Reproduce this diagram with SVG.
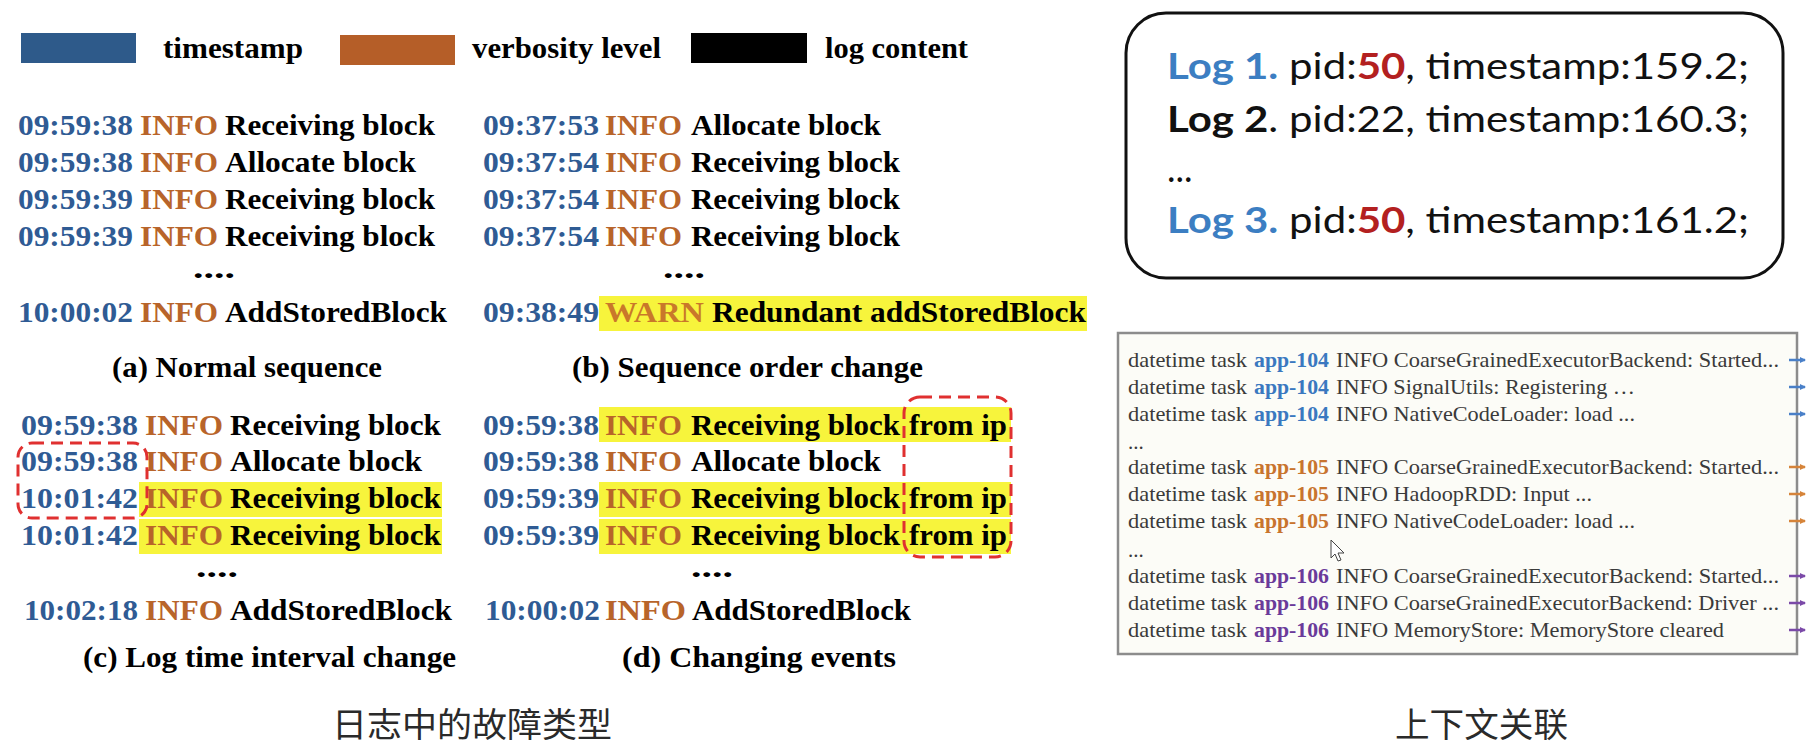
<svg xmlns="http://www.w3.org/2000/svg" width="1810" height="746" viewBox="0 0 1810 746">
<style>
.t{font-family:"Liberation Serif","Times New Roman",serif;font-weight:bold;font-size:29px;fill:#000}
.ts{fill:#2f5b94}
.lv{fill:#b8642a}
.wn{fill:#c9782a}
.hl{fill:#f7f43c}
.dash{fill:none;stroke:#e03030;stroke-width:3;stroke-dasharray:12 7}
.cn{font-family:"Noto Sans CJK SC","Noto Sans",sans-serif;font-size:34px;fill:#2a2a2a}
.r{font-family:Lato,"Open Sans",sans-serif;font-size:36px;fill:#111}
.lb{fill:#3c7ec2;font-weight:bold}
.kb{fill:#111;font-weight:bold}
.red{fill:#b32020;font-weight:bold}
.lg{font-family:"Liberation Serif","Times New Roman",serif;font-size:21px;fill:#3a3a3a}
.a4{fill:#3a78c0;font-weight:bold}
.a5{fill:#c8742e;font-weight:bold}
.a6{fill:#6a3a9a;font-weight:bold}
.stub{stroke-width:2.5}
</style>
<defs>
<marker id="mb" markerWidth="6" markerHeight="6" refX="5" refY="3" orient="auto" markerUnits="userSpaceOnUse"><path d="M0,0 L6,3 L0,6 Z" fill="#4a80c8"/></marker>
<marker id="mo" markerWidth="6" markerHeight="6" refX="5" refY="3" orient="auto" markerUnits="userSpaceOnUse"><path d="M0,0 L6,3 L0,6 Z" fill="#d6843a"/></marker>
<marker id="mp" markerWidth="6" markerHeight="6" refX="5" refY="3" orient="auto" markerUnits="userSpaceOnUse"><path d="M0,0 L6,3 L0,6 Z" fill="#7b4aa8"/></marker>
</defs>
<rect width="1810" height="746" fill="#fff"/>

<g id="legend">
<rect x="21" y="33" width="115" height="30" fill="#2e5a8a"/>
<text class="t" x="163" y="58" textLength="140" lengthAdjust="spacingAndGlyphs">timestamp</text>
<rect x="340" y="35" width="115" height="30" fill="#b55e28"/>
<text class="t" x="472" y="58" textLength="189" lengthAdjust="spacingAndGlyphs">verbosity level</text>
<rect x="691" y="33" width="116" height="30" fill="#000"/>
<text class="t" x="825" y="58" textLength="143" lengthAdjust="spacingAndGlyphs">log content</text>
</g>

<g id="panel-a">
<text class="t ts" x="18" y="135" textLength="115" lengthAdjust="spacingAndGlyphs">09:59:38</text>
<text class="t lv" x="140" y="135" textLength="78" lengthAdjust="spacingAndGlyphs">INFO</text>
<text class="t" x="225" y="135" textLength="210" lengthAdjust="spacingAndGlyphs">Receiving block</text>
<text class="t ts" x="18" y="172" textLength="115" lengthAdjust="spacingAndGlyphs">09:59:38</text>
<text class="t lv" x="140" y="172" textLength="78" lengthAdjust="spacingAndGlyphs">INFO</text>
<text class="t" x="225" y="172" textLength="191" lengthAdjust="spacingAndGlyphs">Allocate block</text>
<text class="t ts" x="18" y="209" textLength="115" lengthAdjust="spacingAndGlyphs">09:59:39</text>
<text class="t lv" x="140" y="209" textLength="78" lengthAdjust="spacingAndGlyphs">INFO</text>
<text class="t" x="225" y="209" textLength="210" lengthAdjust="spacingAndGlyphs">Receiving block</text>
<text class="t ts" x="18" y="246" textLength="115" lengthAdjust="spacingAndGlyphs">09:59:39</text>
<text class="t lv" x="140" y="246" textLength="78" lengthAdjust="spacingAndGlyphs">INFO</text>
<text class="t" x="225" y="246" textLength="210" lengthAdjust="spacingAndGlyphs">Receiving block</text>
<text class="t" x="193" y="278" textLength="42" lengthAdjust="spacingAndGlyphs">....</text>
<text class="t ts" x="18" y="322" textLength="115" lengthAdjust="spacingAndGlyphs">10:00:02</text>
<text class="t lv" x="140" y="322" textLength="78" lengthAdjust="spacingAndGlyphs">INFO</text>
<text class="t" x="225" y="322" textLength="222" lengthAdjust="spacingAndGlyphs">AddStoredBlock</text>
<text class="t" x="112" y="377" textLength="270" lengthAdjust="spacingAndGlyphs">(a) Normal sequence</text>
</g>

<g id="panel-b">
<text class="t ts" x="483" y="135" textLength="116" lengthAdjust="spacingAndGlyphs">09:37:53</text>
<text class="t lv" x="605" y="135" textLength="77" lengthAdjust="spacingAndGlyphs">INFO</text>
<text class="t" x="691" y="135" textLength="190" lengthAdjust="spacingAndGlyphs">Allocate block</text>
<text class="t ts" x="483" y="172" textLength="116" lengthAdjust="spacingAndGlyphs">09:37:54</text>
<text class="t lv" x="605" y="172" textLength="77" lengthAdjust="spacingAndGlyphs">INFO</text>
<text class="t" x="691" y="172" textLength="209" lengthAdjust="spacingAndGlyphs">Receiving block</text>
<text class="t ts" x="483" y="209" textLength="116" lengthAdjust="spacingAndGlyphs">09:37:54</text>
<text class="t lv" x="605" y="209" textLength="77" lengthAdjust="spacingAndGlyphs">INFO</text>
<text class="t" x="691" y="209" textLength="209" lengthAdjust="spacingAndGlyphs">Receiving block</text>
<text class="t ts" x="483" y="246" textLength="116" lengthAdjust="spacingAndGlyphs">09:37:54</text>
<text class="t lv" x="605" y="246" textLength="77" lengthAdjust="spacingAndGlyphs">INFO</text>
<text class="t" x="691" y="246" textLength="209" lengthAdjust="spacingAndGlyphs">Receiving block</text>
<text class="t" x="663" y="278" textLength="42" lengthAdjust="spacingAndGlyphs">....</text>
<rect class="hl" x="599" y="296" width="488" height="35"/>
<text class="t ts" x="483" y="322" textLength="116" lengthAdjust="spacingAndGlyphs">09:38:49</text>
<text class="t wn" x="605" y="322" textLength="99" lengthAdjust="spacingAndGlyphs">WARN</text>
<text class="t" x="712" y="322" textLength="374" lengthAdjust="spacingAndGlyphs">Redundant addStoredBlock</text>
<text class="t" x="572" y="377" textLength="351" lengthAdjust="spacingAndGlyphs">(b) Sequence order change</text>
</g>

<g id="panel-c">
<rect class="hl" x="139" y="482" width="303" height="35"/>
<rect class="hl" x="139" y="519" width="303" height="35"/>
<text class="t ts" x="21" y="435" textLength="117" lengthAdjust="spacingAndGlyphs">09:59:38</text>
<text class="t lv" x="145" y="435" textLength="78" lengthAdjust="spacingAndGlyphs">INFO</text>
<text class="t" x="230" y="435" textLength="211" lengthAdjust="spacingAndGlyphs">Receiving block</text>
<text class="t ts" x="21" y="471" textLength="117" lengthAdjust="spacingAndGlyphs">09:59:38</text>
<text class="t lv" x="145" y="471" textLength="78" lengthAdjust="spacingAndGlyphs">INFO</text>
<text class="t" x="230" y="471" textLength="192" lengthAdjust="spacingAndGlyphs">Allocate block</text>
<text class="t ts" x="21" y="508" textLength="117" lengthAdjust="spacingAndGlyphs">10:01:42</text>
<text class="t lv" x="145" y="508" textLength="78" lengthAdjust="spacingAndGlyphs">INFO</text>
<text class="t" x="230" y="508" textLength="211" lengthAdjust="spacingAndGlyphs">Receiving block</text>
<text class="t ts" x="21" y="545" textLength="117" lengthAdjust="spacingAndGlyphs">10:01:42</text>
<text class="t lv" x="145" y="545" textLength="78" lengthAdjust="spacingAndGlyphs">INFO</text>
<text class="t" x="230" y="545" textLength="211" lengthAdjust="spacingAndGlyphs">Receiving block</text>
<rect class="dash" x="18" y="443" width="129" height="75" rx="14"/>
<text class="t" x="196" y="577" textLength="42" lengthAdjust="spacingAndGlyphs">....</text>
<text class="t ts" x="24" y="620" textLength="114" lengthAdjust="spacingAndGlyphs">10:02:18</text>
<text class="t lv" x="145" y="620" textLength="78" lengthAdjust="spacingAndGlyphs">INFO</text>
<text class="t" x="230" y="620" textLength="222" lengthAdjust="spacingAndGlyphs">AddStoredBlock</text>
<text class="t" x="83" y="667" textLength="373" lengthAdjust="spacingAndGlyphs">(c) Log time interval change</text>
</g>

<g id="panel-d">
<rect class="hl" x="599" y="407" width="412" height="35"/>
<rect class="hl" x="599" y="482" width="412" height="35"/>
<rect class="hl" x="599" y="519" width="412" height="35"/>
<text class="t ts" x="483" y="435" textLength="116" lengthAdjust="spacingAndGlyphs">09:59:38</text>
<text class="t lv" x="605" y="435" textLength="77" lengthAdjust="spacingAndGlyphs">INFO</text>
<text class="t" x="691" y="435" textLength="209" lengthAdjust="spacingAndGlyphs">Receiving block</text>
<text class="t" x="909" y="435" textLength="98" lengthAdjust="spacingAndGlyphs">from ip</text>
<text class="t ts" x="483" y="471" textLength="116" lengthAdjust="spacingAndGlyphs">09:59:38</text>
<text class="t lv" x="605" y="471" textLength="77" lengthAdjust="spacingAndGlyphs">INFO</text>
<text class="t" x="691" y="471" textLength="190" lengthAdjust="spacingAndGlyphs">Allocate block</text>
<text class="t ts" x="483" y="508" textLength="116" lengthAdjust="spacingAndGlyphs">09:59:39</text>
<text class="t lv" x="605" y="508" textLength="77" lengthAdjust="spacingAndGlyphs">INFO</text>
<text class="t" x="691" y="508" textLength="209" lengthAdjust="spacingAndGlyphs">Receiving block</text>
<text class="t" x="909" y="508" textLength="98" lengthAdjust="spacingAndGlyphs">from ip</text>
<text class="t ts" x="483" y="545" textLength="116" lengthAdjust="spacingAndGlyphs">09:59:39</text>
<text class="t lv" x="605" y="545" textLength="77" lengthAdjust="spacingAndGlyphs">INFO</text>
<text class="t" x="691" y="545" textLength="209" lengthAdjust="spacingAndGlyphs">Receiving block</text>
<text class="t" x="909" y="545" textLength="98" lengthAdjust="spacingAndGlyphs">from ip</text>
<rect class="dash" x="904" y="397" width="107" height="160" rx="16"/>
<text class="t" x="691" y="577" textLength="42" lengthAdjust="spacingAndGlyphs">....</text>
<text class="t ts" x="485" y="620" textLength="115" lengthAdjust="spacingAndGlyphs">10:00:02</text>
<text class="t lv" x="605" y="620" textLength="81" lengthAdjust="spacingAndGlyphs">INFO</text>
<text class="t" x="692" y="620" textLength="219" lengthAdjust="spacingAndGlyphs">AddStoredBlock</text>
<text class="t" x="622" y="667" textLength="274" lengthAdjust="spacingAndGlyphs">(d) Changing events</text>
</g>

<g id="caption-left">
<text class="cn" x="332" y="737" textLength="280" lengthAdjust="spacingAndGlyphs">日志中的故障类型</text>
</g>

<g id="context-box">
<rect x="1126" y="13" width="657" height="265" rx="40" fill="#fff" stroke="#111" stroke-width="3"/>
<text class="r" x="1167" y="79" textLength="582" lengthAdjust="spacingAndGlyphs"><tspan class="lb">Log 1.</tspan> pid:<tspan class="red">50</tspan>, timestamp:159.2;</text>
<text class="r" x="1167" y="132" textLength="582" lengthAdjust="spacingAndGlyphs"><tspan class="kb">Log 2</tspan>. pid:22, timestamp:160.3;</text>
<text class="r" x="1167" y="182">...</text>
<text class="r" x="1167" y="233" textLength="582" lengthAdjust="spacingAndGlyphs"><tspan class="lb">Log 3.</tspan> pid:<tspan class="red">50</tspan>, timestamp:161.2;</text>
</g>

<g id="log-panel">
<rect x="1118" y="333" width="679" height="321" fill="#fcfcf7" stroke="#8c8c8c" stroke-width="2.5"/>
<text class="lg" x="1128" y="367" textLength="119" lengthAdjust="spacingAndGlyphs">datetime task</text>
<text class="lg a4" x="1254" y="367" textLength="75" lengthAdjust="spacingAndGlyphs">app-104</text>
<text class="lg" x="1336" y="367" textLength="443" lengthAdjust="spacingAndGlyphs">INFO CoarseGrainedExecutorBackend: Started...</text>
<text class="lg" x="1128" y="394" textLength="119" lengthAdjust="spacingAndGlyphs">datetime task</text>
<text class="lg a4" x="1254" y="394" textLength="75" lengthAdjust="spacingAndGlyphs">app-104</text>
<text class="lg" x="1336" y="394" textLength="299" lengthAdjust="spacingAndGlyphs">INFO SignalUtils: Registering …</text>
<text class="lg" x="1128" y="421" textLength="119" lengthAdjust="spacingAndGlyphs">datetime task</text>
<text class="lg a4" x="1254" y="421" textLength="75" lengthAdjust="spacingAndGlyphs">app-104</text>
<text class="lg" x="1336" y="421" textLength="299" lengthAdjust="spacingAndGlyphs">INFO NativeCodeLoader: load ...</text>
<text class="lg" x="1128" y="449">...</text>
<text class="lg" x="1128" y="474" textLength="119" lengthAdjust="spacingAndGlyphs">datetime task</text>
<text class="lg a5" x="1254" y="474" textLength="75" lengthAdjust="spacingAndGlyphs">app-105</text>
<text class="lg" x="1336" y="474" textLength="443" lengthAdjust="spacingAndGlyphs">INFO CoarseGrainedExecutorBackend: Started...</text>
<text class="lg" x="1128" y="501" textLength="119" lengthAdjust="spacingAndGlyphs">datetime task</text>
<text class="lg a5" x="1254" y="501" textLength="75" lengthAdjust="spacingAndGlyphs">app-105</text>
<text class="lg" x="1336" y="501" textLength="256" lengthAdjust="spacingAndGlyphs">INFO HadoopRDD: Input ...</text>
<text class="lg" x="1128" y="528" textLength="119" lengthAdjust="spacingAndGlyphs">datetime task</text>
<text class="lg a5" x="1254" y="528" textLength="75" lengthAdjust="spacingAndGlyphs">app-105</text>
<text class="lg" x="1336" y="528" textLength="299" lengthAdjust="spacingAndGlyphs">INFO NativeCodeLoader: load ...</text>
<text class="lg" x="1128" y="557">...</text>
<text class="lg" x="1128" y="583" textLength="119" lengthAdjust="spacingAndGlyphs">datetime task</text>
<text class="lg a6" x="1254" y="583" textLength="75" lengthAdjust="spacingAndGlyphs">app-106</text>
<text class="lg" x="1336" y="583" textLength="443" lengthAdjust="spacingAndGlyphs">INFO CoarseGrainedExecutorBackend: Started...</text>
<text class="lg" x="1128" y="610" textLength="119" lengthAdjust="spacingAndGlyphs">datetime task</text>
<text class="lg a6" x="1254" y="610" textLength="75" lengthAdjust="spacingAndGlyphs">app-106</text>
<text class="lg" x="1336" y="610" textLength="443" lengthAdjust="spacingAndGlyphs">INFO CoarseGrainedExecutorBackend: Driver ...</text>
<text class="lg" x="1128" y="637" textLength="119" lengthAdjust="spacingAndGlyphs">datetime task</text>
<text class="lg a6" x="1254" y="637" textLength="75" lengthAdjust="spacingAndGlyphs">app-106</text>
<text class="lg" x="1336" y="637" textLength="388" lengthAdjust="spacingAndGlyphs">INFO MemoryStore: MemoryStore cleared</text>
<path d="M1331,540 L1331,558 L1335,554 L1338,561 L1341,560 L1338,553 L1344,553 Z" fill="#fff" stroke="#444" stroke-width="1"/>
</g>

<g id="connectors">
<line class="stub" x1="1789" y1="360" x2="1805" y2="360" stroke="#4a80c8" marker-end="url(#mb)"/>
<line class="stub" x1="1789" y1="387" x2="1805" y2="387" stroke="#4a80c8" marker-end="url(#mb)"/>
<line class="stub" x1="1789" y1="414" x2="1805" y2="414" stroke="#4a80c8" marker-end="url(#mb)"/>
<line class="stub" x1="1789" y1="467" x2="1805" y2="467" stroke="#d6843a" marker-end="url(#mo)"/>
<line class="stub" x1="1789" y1="494" x2="1805" y2="494" stroke="#d6843a" marker-end="url(#mo)"/>
<line class="stub" x1="1789" y1="521" x2="1805" y2="521" stroke="#d6843a" marker-end="url(#mo)"/>
<line class="stub" x1="1789" y1="576" x2="1805" y2="576" stroke="#7b4aa8" marker-end="url(#mp)"/>
<line class="stub" x1="1789" y1="603" x2="1805" y2="603" stroke="#7b4aa8" marker-end="url(#mp)"/>
<line class="stub" x1="1789" y1="630" x2="1805" y2="630" stroke="#7b4aa8" marker-end="url(#mp)"/>
</g>

<g id="caption-right">
<text class="cn" x="1395" y="737" textLength="173" lengthAdjust="spacingAndGlyphs">上下文关联</text>
</g>
</svg>
